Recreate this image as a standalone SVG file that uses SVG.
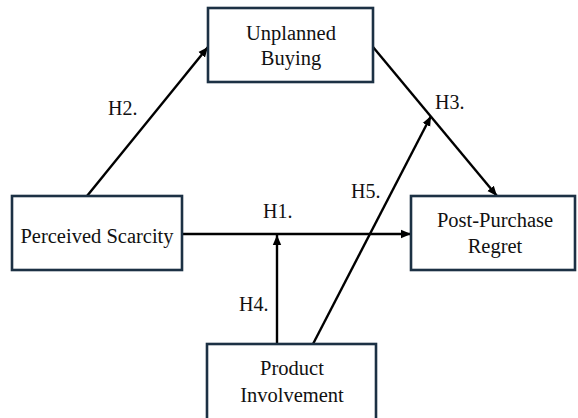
<svg xmlns="http://www.w3.org/2000/svg" width="578" height="418" viewBox="0 0 578 418">
<style>
.box{fill:#fff;stroke:#1c3144;stroke-width:2.6}
.c{stroke:#000;stroke-width:2.4;fill:none;marker-end:url(#ah)}
text{font-family:Liberation Serif, DejaVu Serif, serif;fill:#111}
.t{font-size:20.5px;text-anchor:middle}
.l{font-size:20px}
</style>
<defs>
<marker id="ah" markerUnits="userSpaceOnUse" markerWidth="12" markerHeight="10" refX="10" refY="5" orient="auto">
<path d="M0,0.8 L10,5 L0,9.2 Z" fill="#000"/>
</marker>
</defs>
<rect width="578" height="418" fill="#fff"/>
<g id="connectors">
<path class="c" d="M182,234 L411,234"/>
<path class="c" d="M87,196 L208,47"/>
<path class="c" d="M373,47 L497,196"/>
<path class="c" d="M277,344 L277,235"/>
<path class="c" d="M313,344 L431,116"/>
</g>
<g id="labels" font-family="Liberation Serif, serif">
<text class="l" x="263" y="218">H1.</text>
<text class="l" x="108" y="115">H2.</text>
<text class="l" x="435" y="109">H3.</text>
<text class="l" x="239" y="311">H4.</text>
<text class="l" x="351" y="198">H5.</text>
</g>
<g id="unplanned-buying">
<rect class="box" x="208" y="8" width="165" height="74"/>
<text class="t" x="291" y="40">Unplanned</text>
<text class="t" x="291" y="65">Buying</text>
</g>
<g id="perceived-scarcity">
<rect class="box" x="12" y="196" width="170" height="74"/>
<text class="t" x="97" y="243">Perceived Scarcity</text>
</g>
<g id="post-purchase-regret">
<rect class="box" x="411" y="196" width="164" height="74"/>
<text class="t" x="495" y="227">Post-Purchase</text>
<text class="t" x="495" y="253">Regret</text>
</g>
<g id="product-involvement">
<rect class="box" x="207" y="344" width="169" height="80"/>
<text class="t" x="292" y="375">Product</text>
<text class="t" x="292" y="402">Involvement</text>
</g>
</svg>
